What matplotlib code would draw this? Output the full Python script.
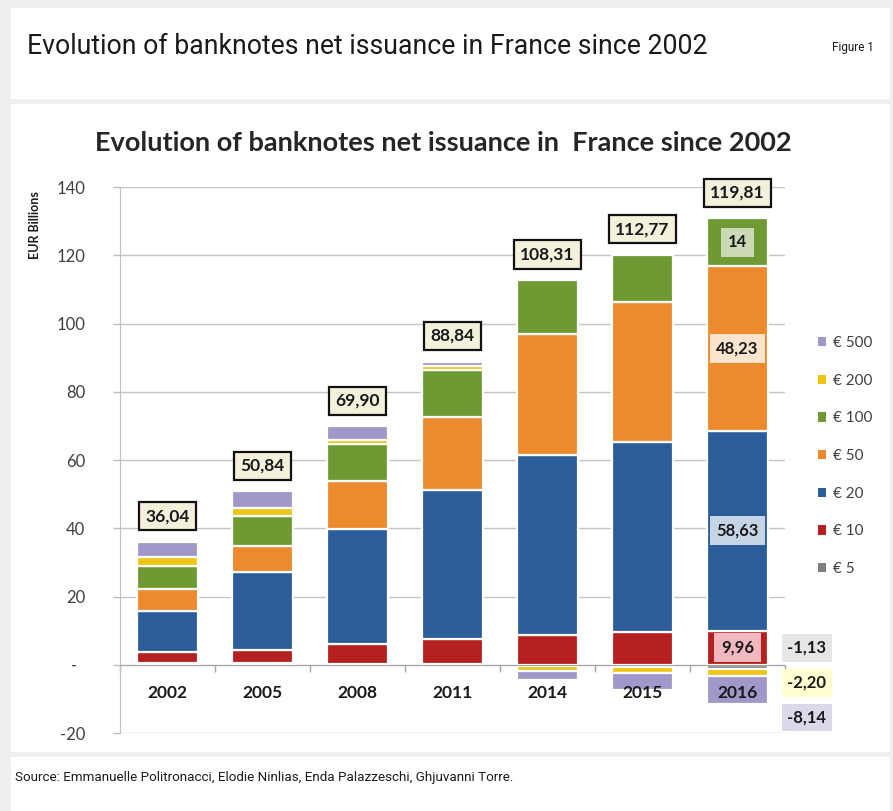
"""
Emission nette de billets en France depuis 2002
Histogramme empilé par coupure, valeurs en milliards d'euros
"""
import matplotlib
matplotlib.use('Agg')
import matplotlib.pyplot as plt
from matplotlib.patches import Patch, Rectangle
import numpy as np

plt.rcParams['font.family'] = ['Lato', 'DejaVu Sans']

# Données (milliards d'euros)
years = ['2002', '2005', '2008', '2011', '2014', '2015', '2016']
denominations = ['€ 5', '€ 10', '€ 20', '€ 50', '€ 100', '€ 200', '€ 500']
e5 = [0.4, 0.4, 0.3, 0.2, -0.5, -0.8, -1.13]
e10 = [3.3, 4.0, 5.7, 7.2, 8.6, 9.5, 9.96]
e20 = [12.0, 22.7, 33.8, 43.7, 52.9, 55.7, 58.63]
e50 = [6.6, 7.7, 13.9, 21.6, 35.5, 41.0, 48.23]
e100 = [6.5, 8.8, 11.0, 13.8, 15.71, 13.9, 14.0]
e200 = [2.7, 2.2, 1.3, 0.9, -1.2, -1.6, -2.20]
e500 = [4.54, 5.04, 3.9, 1.44, -2.7, -4.93, -8.14]
totals = [36.04, 50.84, 69.90, 88.84, 108.31, 112.77, 119.81]

series = [e5, e10, e20, e50, e100, e200, e500]
colors = ['#7f7f7f', '#b3201f', '#2b5d9b', '#ee8a2e', '#6f9a33', '#f0c414', '#a197c9']
# teintes claires des étiquettes de la dernière année
label_fills = ['#e6e6e6', '#f2b8bf', '#c6d5e6', '#fce4cf', '#c9dab5', '#ffffd2', '#dcd8ea']

W, H = 893, 811
fig = plt.figure(figsize=(W / 100, H / 100), dpi=100, facecolor='#efefef')


def fx(px):
    return px / W


def fy(py):
    return 1 - py / H


# panneaux blancs : en-tête, graphique, source
for top, bottom in [(8, 99), (104, 752), (757, 811)]:
    fig.patches.append(Rectangle((fx(11), fy(bottom)), fx(890) - fx(11), fy(top) - fy(bottom),
                                 transform=fig.transFigure, facecolor='white',
                                 edgecolor='none', zorder=-10))

narrow = ['Roboto', 'DejaVu Sans']
fig.text(fx(27), fy(47), 'Evolution of banknotes net issuance in France since 2002',
         fontsize=19.2, va='center', color='#1a1a1a', family=narrow)
fig.text(fx(874), fy(47), 'Figure 1', fontsize=8.5, va='center', ha='right', color='#1a1a1a',
         family=narrow)
fig.text(fx(15), fy(777), 'Source: Emmanuelle Politronacci, Elodie Ninlias, Enda Palazzeschi, '
         'Ghjuvanni Torre.', fontsize=9.6, va='center', color='#1a1a1a', family=narrow)

ax = fig.add_axes([fx(120), fy(733), fx(785) - fx(120), fy(187) - fy(733)])
ax.set_facecolor('none')

x = np.arange(len(years))
width = 0.64
pos_bottom = np.zeros(len(years))
neg_bottom = np.zeros(len(years))
bars = []
for vals, col in zip(series, colors):
    vals = np.array(vals)
    bottom = np.where(vals >= 0, pos_bottom, neg_bottom)
    b = ax.bar(x, vals, width, bottom=bottom, color=col, edgecolor='white', linewidth=1.6, zorder=2)
    bars.append(b)
    pos_bottom += np.where(vals >= 0, vals, 0)
    neg_bottom += np.where(vals < 0, vals, 0)

# totaux au-dessus des barres
for i, t in enumerate(totals):
    ax.text(x[i], pos_bottom[i] + 7.5, f'{t:.2f}'.replace('.', ','), ha='center', va='center',
            fontsize=12.5, fontweight='bold', color='#1a1a1a', zorder=5,
            bbox=dict(boxstyle='square,pad=0.35', facecolor='#f3f0dc', edgecolor='#111111',
                      linewidth=1.6))

# détail de la dernière année : coupures positives dans la barre
last = len(years) - 1
for k in [1, 2, 3, 4]:
    rect = bars[k][last]
    v = series[k][last]
    txt = f'{v:.2f}'.replace('.', ',') if v != int(v) else str(int(v))
    ax.text(rect.get_x() + rect.get_width() / 2, rect.get_y() + rect.get_height() / 2, txt,
            ha='center', va='center', fontsize=12, fontweight='bold', color='#1a1a1a', zorder=5,
            bbox=dict(boxstyle='square,pad=0.4', facecolor=label_fills[k], edgecolor='none'))

# coupures négatives : étiquettes à droite de la barre
for k, ypos in [(0, 5.0), (5, -5.3), (6, -15.5)]:
    v = series[k][last]
    ax.text(x[last] + 0.73, ypos, f'{v:.2f}'.replace('.', ','), ha='center', va='center',
            fontsize=12, fontweight='bold', color='#1a1a1a', zorder=5, clip_on=False,
            bbox=dict(boxstyle='square,pad=0.35', facecolor=label_fills[k], edgecolor='none'))

# années sous l'axe zéro
for i, yr in enumerate(years):
    ax.annotate(yr, xy=(x[i], 0), xytext=(0, -28), textcoords='offset pixels',
                ha='center', va='center', fontsize=12.5, fontweight='bold', color='#1a1a1a',
                zorder=6)

ax.set_xlim(-0.5, len(years) - 0.5)
ax.set_ylim(-20, 140)
yt = np.arange(-20, 141, 20)
ax.set_yticks(yt, labels=['-  ' if v == 0 else str(v) for v in yt])
ax.tick_params(axis='y', length=5, width=1, color='#bfbfbf', pad=20, labelsize=12,
               labelcolor='#404040')
ax.yaxis.grid(True, color='#c4c4c4', linewidth=1)
ax.set_axisbelow(True)

ax.set_xticks([])
ax.set_xticks(np.arange(-0.5, len(years)), minor=True)
ax.tick_params(axis='x', which='minor', length=5, width=1, color='#a6a6a6', direction='out')
ax.spines['bottom'].set_position(('data', 0))
ax.spines['bottom'].set_color('#a6a6a6')
ax.spines['left'].set_color('#bfbfbf')
ax.spines['top'].set_visible(False)
ax.spines['right'].set_visible(False)

fig.text(fx(35), fy(225), 'EUR Billions', rotation=90, ha='center', va='center',
         fontsize=9, fontweight='bold', color='#1a1a1a')
fig.text(fx(443), fy(143), 'Evolution of banknotes net issuance in  France since 2002',
         ha='center', va='center', fontsize=19.5, fontweight='bold', color='#262626')

handles = [Patch(facecolor=c, edgecolor='none') for c in colors][::-1]
fig.legend(handles, denominations[::-1], loc='upper left', bbox_to_anchor=(fx(818), fy(336)),
           frameon=False, fontsize=11, handlelength=0.55, handleheight=0.55, handletextpad=0.4,
           labelspacing=1.55, borderpad=0, borderaxespad=0, labelcolor='#404040')

plt.savefig('out.png', dpi=100, facecolor=fig.get_facecolor())
plt.close()
